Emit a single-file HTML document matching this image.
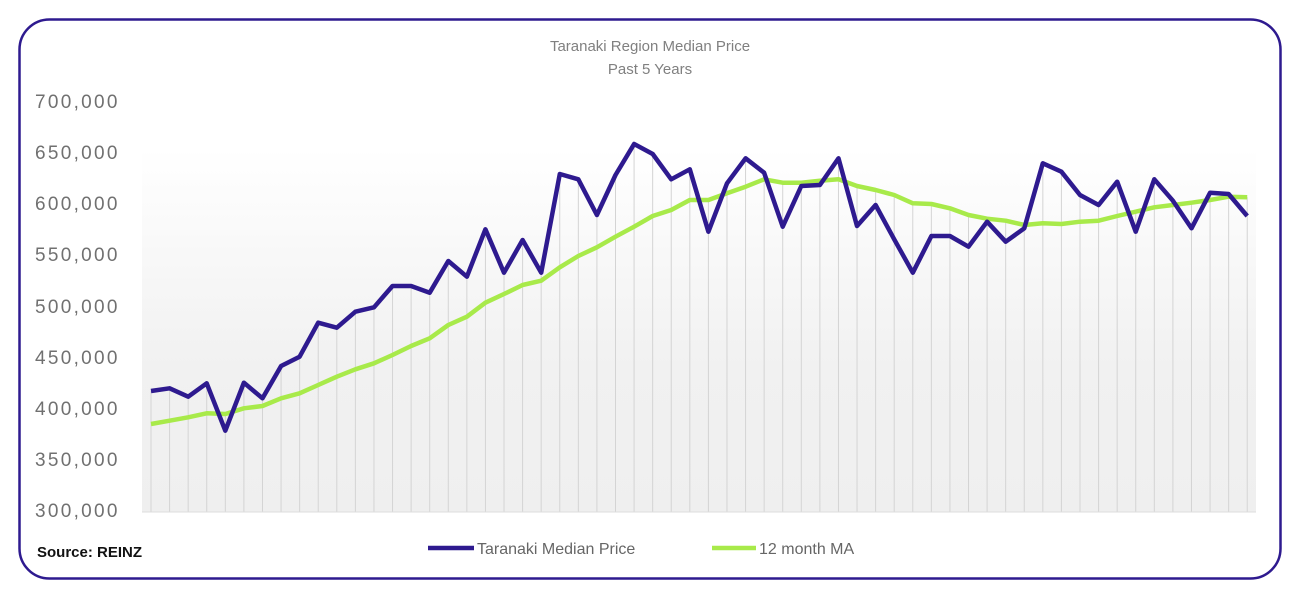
<!DOCTYPE html>
<html><head><meta charset="utf-8"><style>
html,body{margin:0;padding:0;background:#fff;}
svg{display:block;font-family:"Liberation Sans",sans-serif;}
</style></head><body>
<svg width="1311" height="600" viewBox="0 0 1311 600" xmlns="http://www.w3.org/2000/svg">
<defs>
<linearGradient id="bg" x1="0" y1="0" x2="0" y2="1">
<stop offset="0" stop-color="#ffffff"/><stop offset="0.6" stop-color="#f1f1f1"/><stop offset="1" stop-color="#efefef"/>
</linearGradient>
</defs>
<rect x="19.5" y="19.5" width="1261" height="559" rx="30" fill="#fff" stroke="#2e1a8f" stroke-width="2.5"/>
<text x="650" y="51" text-anchor="middle" font-size="15" fill="#808080">Taranaki Region Median Price</text>
<text x="650" y="74" text-anchor="middle" font-size="15" fill="#808080">Past 5 Years</text>
<rect x="142" y="148" width="1114" height="364" fill="url(#bg)"/>
<g font-size="19" fill="#707070" letter-spacing="2.3">
<text x="35" y="108">700,000</text>
<text x="35" y="159">650,000</text>
<text x="35" y="210">600,000</text>
<text x="35" y="261">550,000</text>
<text x="35" y="313">500,000</text>
<text x="35" y="364">450,000</text>
<text x="35" y="415">400,000</text>
<text x="35" y="466">350,000</text>
<text x="35" y="517">300,000</text>
</g>
<g id="grid" stroke="#d4d4d4" stroke-width="1"></g>
<line x1="142" y1="512" x2="1256" y2="512" stroke="#dddddd"/>
<polyline id="green" fill="none" stroke="#a8ea4a" stroke-width="4.5" stroke-linejoin="round"/>
<polyline id="dark" fill="none" stroke="#2e1a8f" stroke-width="4.5" stroke-linejoin="round"/>
<text x="37" y="557" font-size="15" font-weight="bold" fill="#111">Source: REINZ</text>
<line x1="428" y1="548" x2="474" y2="548" stroke="#2e1a8f" stroke-width="4.5"/>
<text x="477" y="554" font-size="16" fill="#666">Taranaki Median Price</text>
<line x1="712" y1="548" x2="756" y2="548" stroke="#a8ea4a" stroke-width="4.5"/>
<text x="759" y="554" font-size="16" fill="#666">12 month MA</text>
<script>
var d=[391,388.3,396.7,383.3,430.7,382.7,398.3,366,356.7,322.7,327.7,311.7,307.3,286,286,292.7,261,276.7,229.3,272.7,240,272.7,174,179.3,215,175,144,154,179.3,169.3,231.7,183.3,158.3,172.7,226.7,186,185,158.3,226,205,239.3,272.7,236,236,246.7,221.7,241.7,228.3,163.3,171.7,195,205,181.7,231.7,179.3,200.7,228.3,192.7,194,216];
var g=[424,420.7,417.3,413.3,414,408.3,406,398.3,393.3,385,376.7,369.3,363.3,355,346,338.3,325,316.7,302.7,294,285,280.7,267.3,256,247.3,236.7,226.7,216,210,200,200,193.3,186.7,179.3,182.7,182.7,180.7,179.3,186,190,195,203.3,204,208.3,215,218.7,220.7,225,223.3,224,221.7,220.7,216,211.7,207.3,205,202.7,200,196.7,197.3];
var pd=[],pg=[],gr=document.getElementById('grid'),ns='http://www.w3.org/2000/svg';
for(var i=0;i<60;i++){var x=151+i*18.58;pd.push(x.toFixed(1)+','+d[i]);pg.push(x.toFixed(1)+','+g[i]);
var l=document.createElementNS(ns,'line');l.setAttribute('x1',x);l.setAttribute('x2',x);l.setAttribute('y1',Math.min(d[i],g[i]));l.setAttribute('y2',512);gr.appendChild(l);}
document.getElementById('dark').setAttribute('points',pd.join(' '));
document.getElementById('green').setAttribute('points',pg.join(' '));
</script>
</svg>
</body></html>
